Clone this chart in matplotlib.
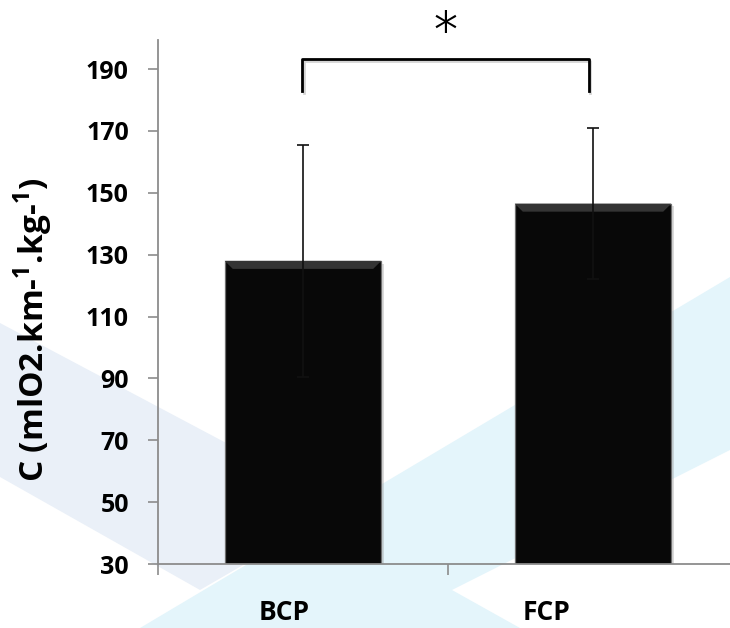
import matplotlib
matplotlib.use("Agg")
import matplotlib.pyplot as plt
import matplotlib.patheffects as pe
import numpy as np
from matplotlib.patches import Polygon

# Energy cost per condition, mean and SD
categories = ["BCP", "FCP"]
means = [128.0, 146.5]
sds = [37.5, 24.3]
yticks = [30, 50, 70, 90, 110, 130, 150, 170, 190]
ylabel = r"C (mlO2.km-$^{\mathrm{1}}$.kg-$^{\mathrm{1}}$)"
sig_mark = "*"

plt.rcParams["font.family"] = ["Open Sans", "DejaVu Sans"]
plt.rcParams["font.weight"] = "bold"
plt.rcParams["axes.labelweight"] = "bold"
plt.rcParams["mathtext.fontset"] = "custom"
plt.rcParams["mathtext.rm"] = "Open Sans:bold"
plt.rcParams["mathtext.bf"] = "Open Sans:bold"

W, H = 730, 628
fig = plt.figure(figsize=(W / 100, H / 100), dpi=100)


def fig_poly(points, color, z):
    # points in pixels from the top-left corner
    xy = [(x / W, 1 - y / H) for x, y in points]
    fig.add_artist(Polygon(xy, closed=True, transform=fig.transFigure,
                           facecolor=color, edgecolor="none", zorder=z))


# pale slide-template bands behind the chart
fig_poly([(140, 628), (730, 277), (730, 450), (452, 590), (520, 628)], "#e4f5fb", -3)
fig_poly([(0, 323), (345, 506), (200, 590), (0, 477)], "#eaf0f8", -2)

ax = fig.add_axes([158 / W, 64 / H, 580 / W, 524 / H])
ax.patch.set_alpha(0)
ax.set_xlim(-0.5, 1.5)
ax.set_ylim(30, 199.4)

x = np.arange(len(categories))
width = 0.54
shadow = [pe.SimplePatchShadow(offset=(2, -2), shadow_rgbFace="#9a9a9a", alpha=0.35), pe.Normal()]
bars = ax.bar(x, means, width=width, color="#080808", edgecolor="#6e6e6e",
              linewidth=0.9, zorder=2)
for b in bars:
    b.set_path_effects(shadow)

# bevel along the top of each bar
bevel_h = 2.6
inset = 0.028
for xi, m in zip(x, means):
    ax.add_patch(Polygon([(xi - width / 2, m), (xi + width / 2, m),
                          (xi + width / 2 - inset, m - bevel_h),
                          (xi - width / 2 + inset, m - bevel_h)],
                         closed=True, facecolor="#343434", edgecolor="none", zorder=2.5))

ax.errorbar(x, means, yerr=sds, fmt="none", ecolor="#111111", elinewidth=1.2,
            capsize=4.5, capthick=1.2, zorder=3)

# significance bracket
bx = [-0.003, -0.003, 0.986, 0.986]
by = [182.9, 193.2, 193.2, 182.9]
ax.plot(bx, by, color="black", lw=2, solid_joinstyle="round", clip_on=False, zorder=4,
        path_effects=[pe.SimpleLineShadow(offset=(1, -1.5), shadow_color="#aaaaaa", alpha=0.5), pe.Normal()])
ax.text(0.4915, 195.9, sig_mark, ha="center", va="baseline", fontsize=40,
        fontweight="light", family=["Inter", "DejaVu Sans"], clip_on=False)

for side in ["top", "right"]:
    ax.spines[side].set_visible(False)
for side in ["left", "bottom"]:
    ax.spines[side].set_color("#8c8c8c")
    ax.spines[side].set_linewidth(1.3)

ax.set_yticks(yticks)
ax.set_yticklabels([str(v) for v in yticks])
ax.tick_params(axis="y", length=7, width=1.2, color="#8c8c8c", pad=14, labelsize=18)

ax.set_xticks([-0.066, 0.838])
ax.set_xticklabels(categories)
ax.tick_params(axis="x", length=0, pad=25, labelsize=19)
ax.set_xticks([-0.5, 0.5], minor=True)
ax.tick_params(axis="x", which="minor", length=8, width=1.2, color="#8c8c8c")

ax.set_ylabel(ylabel, fontsize=24)
ax.yaxis.set_label_coords(-0.178, 0.447)

fig.savefig("out.png", dpi=100)
